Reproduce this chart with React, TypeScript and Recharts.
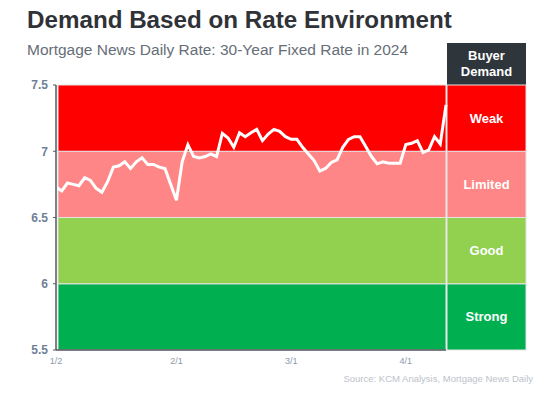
import { LineChart, Line, XAxis, YAxis, ReferenceArea } from "recharts";

// 30-year fixed, trading days Jan 2 – Apr 10, 2024
const dates = [
  "1/2", "1/3", "1/4", "1/5", "1/8", "1/9", "1/10", "1/11", "1/12", "1/16", "1/17",
  "1/18", "1/19", "1/22", "1/23", "1/24", "1/25", "1/26", "1/29", "1/30", "1/31",
  "2/1", "2/2", "2/5", "2/6", "2/7", "2/8", "2/9", "2/12", "2/13", "2/14", "2/15",
  "2/16", "2/20", "2/21", "2/22", "2/23", "2/26", "2/27", "2/28", "2/29",
  "3/1", "3/4", "3/5", "3/6", "3/7", "3/8", "3/11", "3/12", "3/13", "3/14", "3/15",
  "3/18", "3/19", "3/20", "3/21", "3/22", "3/25", "3/26", "3/27", "3/28",
  "4/1", "4/2", "4/3", "4/4", "4/5", "4/8", "4/9", "4/10",
];

const rates = [
  6.73, 6.7, 6.76, 6.75, 6.74, 6.8, 6.78, 6.72, 6.69, 6.77, 6.88,
  6.89, 6.92, 6.87, 6.92, 6.95, 6.9, 6.9, 6.88, 6.87, 6.75,
  6.63, 6.92, 7.05, 6.96, 6.95, 6.96, 6.98, 6.96, 7.135, 7.1, 7.03,
  7.14, 7.11, 7.14, 7.165, 7.08, 7.13, 7.165, 7.15, 7.11,
  7.09, 7.09, 7.03, 6.98, 6.93, 6.85, 6.87, 6.915, 6.935, 7.03, 7.09,
  7.11, 7.11, 7.035, 6.96, 6.905, 6.92, 6.91, 6.91, 6.91,
  7.05, 7.06, 7.08, 6.99, 7.01, 7.11, 7.055, 7.35,
];

const xTicks = ["1/2", "2/1", "3/1", "4/1"];
const yTicks = [5.5, 6, 6.5, 7, 7.5];

// demand zones, bottom to top
const zoneBounds = [5.5, 6, 6.5, 7, 7.5];
const zoneNames = ["Strong", "Good", "Limited", "Weak"];
const zoneColors = ["#00b050", "#92d050", "#ff8686", "#ff0000"];

const data = dates.map((date, i) => ({ date, rate: rates[i] }));

const FONT = "'Liberation Sans', Arial, sans-serif";
const PANEL_W = 79;

function ZoneShape(props: any) {
  const { x, y, width, height, color, name } = props;
  const px = x + width + 1;
  return (
    <g>
      <rect x={x + 2} y={y} width={width - 2} height={height} fill={color} stroke="#e4e4e4" strokeWidth={1} />
      <rect x={px} y={y} width={PANEL_W} height={height} fill={color} stroke="#e4e4e4" strokeWidth={1} />
      <text
        x={px + PANEL_W / 2}
        y={y + height / 2}
        textAnchor="middle"
        dominantBaseline="central"
        fill="#ffffff"
        fontSize={13}
        fontWeight={700}
        fontFamily={FONT}
      >
        {name}
      </text>
    </g>
  );
}

export default function App() {
  return (
    <div
      style={{
        position: "fixed",
        left: 0,
        top: 0,
        width: 549,
        height: 406,
        background: "#fff",
        fontFamily: FONT,
        overflow: "hidden",
      }}
    >
      <div style={{ position: "absolute", left: 27, top: 6, fontSize: 24.2, fontWeight: 700, color: "#2f3237", whiteSpace: "nowrap" }}>
        Demand Based on Rate Environment
      </div>
      <div style={{ position: "absolute", left: 27, top: 41, fontSize: 15.5, color: "#666e77", whiteSpace: "nowrap" }}>
        Mortgage News Daily Rate: 30-Year Fixed Rate in 2024
      </div>
      <div
        style={{
          position: "absolute",
          left: 447,
          top: 43,
          width: PANEL_W,
          height: 42,
          background: "#2e353b",
          color: "#fff",
          fontSize: 13,
          fontWeight: 700,
          lineHeight: "16px",
          textAlign: "center",
          display: "flex",
          flexDirection: "column",
          justifyContent: "center",
        }}
      >
        <div>Buyer</div>
        <div>Demand</div>
      </div>

      <div style={{ position: "absolute", left: 0, top: 0 }}>
        <LineChart width={549} height={406} data={data} margin={{ top: 85, right: 103, left: 14, bottom: 26 }}>
          {zoneNames.map((name, i) => (
            <ReferenceArea
              key={name}
              y1={zoneBounds[i]}
              y2={zoneBounds[i + 1]}
              ifOverflow="visible"
              shape={(p: any) => <ZoneShape {...p} name={name} color={zoneColors[i]} />}
            />
          ))}
          <XAxis
            dataKey="date"
            ticks={xTicks}
            interval={0}
            tickLine={false}
            axisLine={{ stroke: "#55595e", strokeWidth: 1.5 }}
            tick={{ fill: "#8d99ab", fontSize: 9, fontFamily: FONT }}
            tickMargin={2}
            height={30}
          />
          <YAxis
            domain={[5.5, 7.5]}
            ticks={yTicks}
            type="number"
            width={42}
            tickSize={3}
            tickMargin={5}
            axisLine={{ stroke: "#55595e", strokeWidth: 1.5 }}
            tickLine={{ stroke: "#55595e" }}
            tick={{ fill: "#6f7f96", fontSize: 12, fontWeight: 700, fontFamily: FONT }}
          />
          <Line
            dataKey="rate"
            type="linear"
            stroke="#ffffff"
            strokeWidth={3}
            dot={false}
            isAnimationActive={false}
          />
        </LineChart>
      </div>

      <div style={{ position: "absolute", right: 16, top: 373, fontSize: 9.5, color: "#bcc2ca", whiteSpace: "nowrap" }}>
        Source: KCM Analysis, Mortgage News Daily
      </div>
    </div>
  );
}
